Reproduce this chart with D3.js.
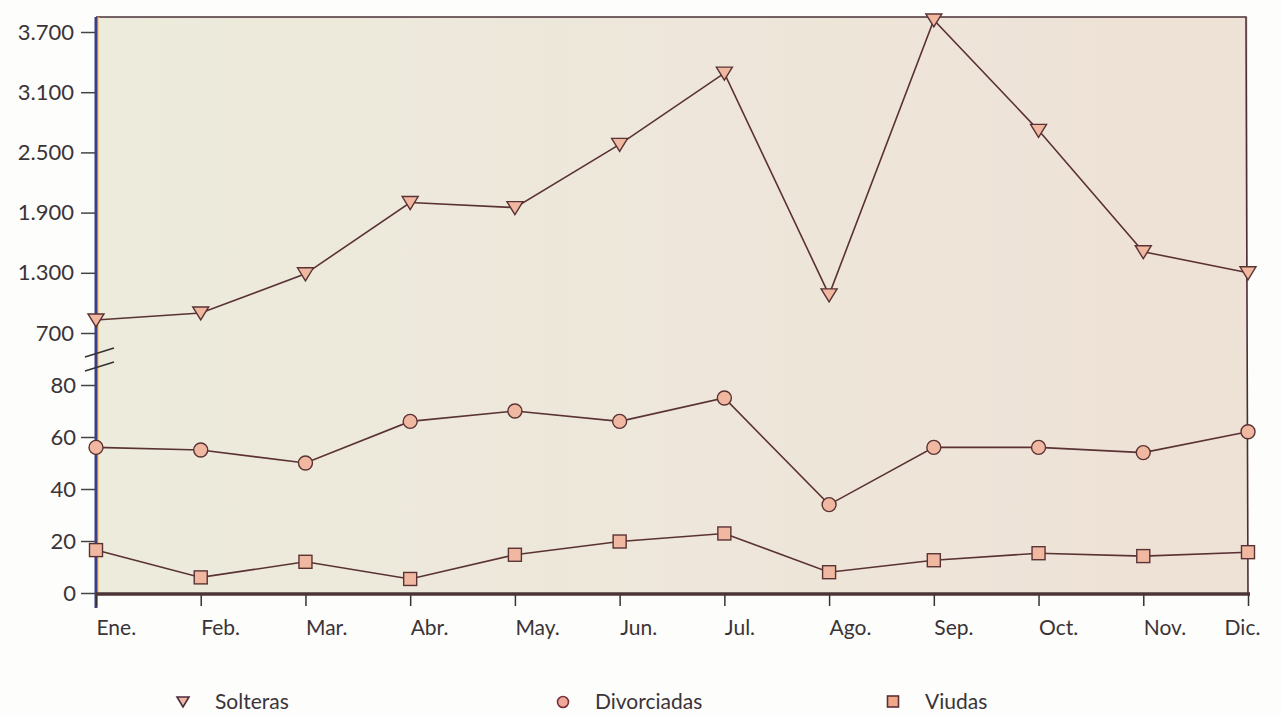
<!DOCTYPE html>
<html>
<head>
<meta charset="utf-8">
<script src="https://cdn.jsdelivr.net/npm/d3@7"></script>
<style>
  body { margin: 0; background: #fdfdfb; }
  text { font-family: "Lato", "Open Sans", sans-serif; font-weight: 400; fill: #3a3438; }
</style>
</head>
<body>
<div class="chart"></div>
<script>
// data
var months = ['Ene.', 'Feb.', 'Mar.', 'Abr.', 'May.', 'Jun.', 'Jul.', 'Ago.', 'Sep.', 'Oct.', 'Nov.', 'Dic.'];
var solteras = [830, 900, 1290, 2000, 1950, 2580, 3290, 1080, 3820, 2720, 1510, 1300];
var divorciadas = [56, 55, 50, 66, 70, 66, 75, 34, 56, 56, 54, 62];
var viudas = [16.5, 6, 12, 5.4, 14.7, 19.8, 22.9, 8, 12.6, 15.3, 14.2, 15.7];
var upperTicks = [700, 1300, 1900, 2500, 3100, 3700];
var lowerTicks = [0, 20, 40, 60, 80];
var legendNames = ['Solteras', 'Divorciadas', 'Viudas'];

var width = 1281;
var height = 715;
var LEFT = 96, RIGHT = 1248, TOP = 17, BOTTOM = 594;
var LINE_COLOR = '#5a3234';
var MARK_FILL = '#f0b8a0';

var svg = d3.select('.chart').append('svg')
  .attr('width', width)
  .attr('height', height);

var defs = svg.append('defs');
var grad = defs.append('linearGradient').attr('id', 'bg')
  .attr('x1', '0%').attr('x2', '100%').attr('y1', '0%').attr('y2', '0%');
grad.append('stop').attr('offset', '0%').attr('stop-color', '#ecebdc');
grad.append('stop').attr('offset', '55%').attr('stop-color', '#eee6da');
grad.append('stop').attr('offset', '100%').attr('stop-color', '#eee1d6');

// scales
var x = d3.scalePoint().domain(months).range([LEFT, RIGHT]);
var yLow = d3.scaleLinear().domain([0, 80]).range([BOTTOM - 1, 385]);
var yHigh = d3.scaleLinear().domain([700, 3700]).range([333, 32]);

// plot background
svg.append('rect')
  .attr('x', LEFT).attr('y', TOP)
  .attr('width', RIGHT - LEFT).attr('height', BOTTOM - TOP)
  .attr('fill', 'url(#bg)');

// top and right border
svg.append('path')
  .attr('d', 'M' + LEFT + ',' + TOP + 'H' + (RIGHT - 2) + 'L' + RIGHT + ',' + BOTTOM)
  .attr('fill', 'none')
  .attr('stroke', '#4a3036')
  .attr('stroke-width', 1.6);

// y axes (two pieces with a break)
var axisHigh = d3.axisLeft(yHigh).tickValues(upperTicks).tickSize(15).tickPadding(7)
  .tickFormat(function (d) { return d3.format(',')(d).replace(',', '.'); });
var axisLow = d3.axisLeft(yLow).tickValues(lowerTicks).tickSize(15).tickPadding(5);

function styleAxis(g) {
  g.select('.domain').remove();
  g.selectAll('.tick line').attr('stroke', '#444').attr('stroke-width', 1.5);
  g.selectAll('.tick text').style('font-size', '22px').attr('fill', '#3a3438');
}

svg.append('g').attr('transform', 'translate(' + LEFT + ',0)').call(axisHigh).call(styleAxis);
svg.append('g').attr('transform', 'translate(' + LEFT + ',0)').call(axisLow).call(styleAxis);

// left axis line
svg.append('line')
  .attr('x1', LEFT + 2).attr('x2', LEFT + 2).attr('y1', TOP).attr('y2', BOTTOM)
  .attr('stroke', '#f0c878').attr('stroke-width', 1.5);
svg.append('line')
  .attr('x1', LEFT).attr('x2', LEFT).attr('y1', TOP).attr('y2', BOTTOM + 14)
  .attr('stroke', '#3b3d8c').attr('stroke-width', 3);

// break marks
[352, 366].forEach(function (yy) {
  svg.append('line')
    .attr('x1', 85).attr('x2', 114).attr('y1', yy + 5).attr('y2', yy - 4)
    .attr('stroke', '#333').attr('stroke-width', 1.5);
});

// x axis
var xAxis = d3.axisBottom(x).tickSize(12).tickPadding(14);
var xg = svg.append('g').attr('transform', 'translate(0,' + BOTTOM + ')').call(xAxis);
xg.select('.domain').remove();
xg.selectAll('.tick line').attr('stroke', '#333').attr('stroke-width', 1.5);
xg.selectAll('.tick text')
  .style('font-size', '21px')
  .attr('fill', '#3a3438')
  .attr('text-anchor', function (d, i) { return i === months.length - 1 ? 'middle' : 'start'; })
  .attr('x', function (d, i) { return i === months.length - 1 ? -6 : 0; });
svg.append('line')
  .attr('x1', LEFT).attr('x2', RIGHT + 2).attr('y1', BOTTOM).attr('y2', BOTTOM)
  .attr('stroke', '#4a3438').attr('stroke-width', 3.5);

// series lines
function drawLine(values, yScale) {
  var line = d3.line()
    .x(function (d, i) { return x(months[i]); })
    .y(function (d) { return yScale(d); });
  svg.append('path')
    .datum(values)
    .attr('d', line)
    .attr('fill', 'none')
    .attr('stroke', LINE_COLOR)
    .attr('stroke-width', 1.6);
}
drawLine(solteras, yHigh);
drawLine(divorciadas, yLow);
drawLine(viudas, yLow);

var triangle = 'M-8,-6L8,-6L0,7Z';

svg.selectAll('.m-sol').data(solteras).enter().append('path')
  .attr('class', 'm-sol')
  .attr('d', triangle)
  .attr('transform', function (d, i) { return 'translate(' + x(months[i]) + ',' + yHigh(d) + ')'; })
  .attr('fill', MARK_FILL).attr('stroke', LINE_COLOR).attr('stroke-width', 1.4);

svg.selectAll('.m-div').data(divorciadas).enter().append('circle')
  .attr('class', 'm-div')
  .attr('cx', function (d, i) { return x(months[i]); })
  .attr('cy', function (d) { return yLow(d); })
  .attr('r', 7)
  .attr('fill', MARK_FILL).attr('stroke', LINE_COLOR).attr('stroke-width', 1.4);

svg.selectAll('.m-viu').data(viudas).enter().append('rect')
  .attr('class', 'm-viu')
  .attr('x', function (d, i) { return x(months[i]) - 6.5; })
  .attr('y', function (d) { return yLow(d) - 6.5; })
  .attr('width', 13).attr('height', 13)
  .attr('fill', MARK_FILL).attr('stroke', LINE_COLOR).attr('stroke-width', 1.4);

// legend
var legendX = [183, 563, 893];
var legend = svg.selectAll('.legend').data(legendNames).enter().append('g')
  .attr('class', 'legend')
  .attr('transform', function (d, i) { return 'translate(' + legendX[i] + ',702)'; });

legend.each(function (d, i) {
  var g = d3.select(this);
  if (i === 0) {
    g.append('path').attr('d', 'M-6,-5L6,-5L0,5Z')
      .attr('fill', '#f0b8a0').attr('stroke', '#4a2a40').attr('stroke-width', 1.6);
  } else if (i === 1) {
    g.append('circle').attr('r', 5.5)
      .attr('fill', '#f0a898').attr('stroke', '#7a3038').attr('stroke-width', 1.6);
  } else {
    g.append('rect').attr('x', -5.5).attr('y', -6).attr('width', 11).attr('height', 11)
      .attr('fill', '#f0a888').attr('stroke', '#5a3038').attr('stroke-width', 1.6);
  }
  g.append('text')
    .attr('x', 32)
    .attr('y', 7)
    .style('font-size', '21px')
    .text(d);
});
</script>
</body>
</html>
